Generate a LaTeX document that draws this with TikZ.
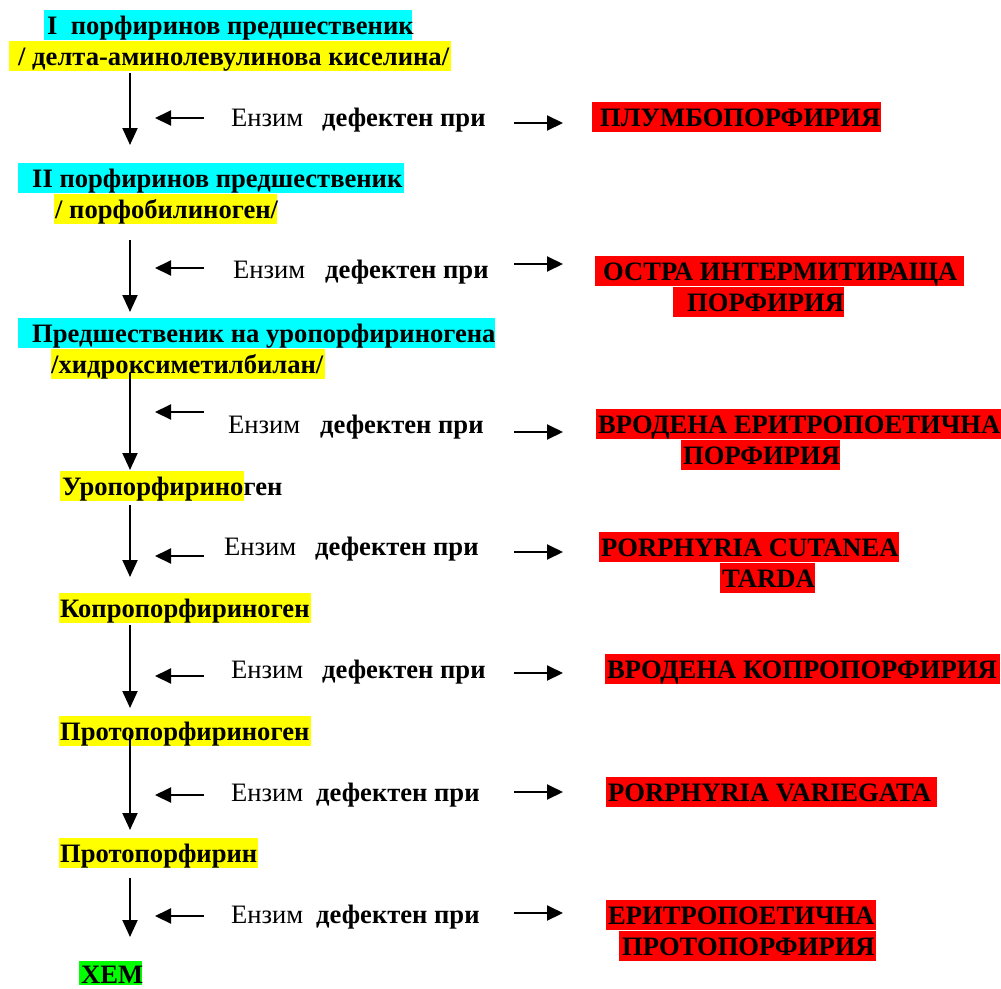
\documentclass[tikz,border=0pt]{standalone}
\usepackage{fontspec}
\setmainfont{Liberation Serif}
\usetikzlibrary{arrows.meta}
\definecolor{hlcyan}{RGB}{0,255,255}
\definecolor{hlyellow}{RGB}{255,255,0}
\definecolor{hlred}{RGB}{255,0,0}
\definecolor{hlgreen}{RGB}{0,255,0}
\newcommand\hbx[3]{\makebox[#1pt][l]{\hspace*{#2pt}#3}}
\newcommand\hlstrut{\rule{0pt}{24pt}\rule[-6pt]{0pt}{6pt}}
\tikzset{
  hl/.style={anchor=north west, inner sep=0pt, text height=24pt, text depth=6pt,
    font=\fontsize{26.6}{30}\selectfont\bfseries},
  cyanbox/.style={hl, fill=hlcyan},
  yelbox/.style={hl, fill=hlyellow},
  redbox/.style={hl, fill=hlred},
  grnbox/.style={hl, fill=hlgreen, text height=22pt, text depth=2pt},
  enz/.style={anchor=base west, inner sep=0pt, font=\fontsize{26.6}{30}\selectfont},
  dfk/.style={anchor=base west, inner sep=0pt, font=\fontsize{26.6}{30}\selectfont\bfseries},
  flow/.style={line width=2pt, -{Triangle[length=17pt,width=15pt]}},
  side/.style={line width=2pt, -{Triangle[length=16pt,width=15pt]}}
}
\begin{document}
\begin{tikzpicture}[x=1pt,y=-1pt]
\useasboundingbox (0,0) rectangle (1001,988);
% left column
\node[cyanbox] (n1a) at (44,10) {\hbx{368}{3}{I\ \ порфиринов предшественик}};
\node[yelbox] (n1b) at (9,41) {\hbx{442}{9}{/ делта-аминолевулинова киселина/}};
\node[cyanbox] (n2a) at (18,163) {\hbx{386}{14}{II порфиринов предшественик}};
\node[yelbox] (n2b) at (54,194) {\hbx{223}{1}{/ порфобилиноген/}};
\node[cyanbox] (n3a) at (18,318) {\hbx{477}{14}{Предшественик на уропорфириногена}};
\node[yelbox] (n3b) at (51,349) {\hbx{274}{0}{/хидроксиметилбилан/}};
\node[hl] (n4) at (60,471) {\setlength\fboxsep{0pt}\colorbox{hlyellow}{\hspace*{2pt}Уропорфирино\hlstrut}ген};
\node[yelbox] (n5) at (59,593) {\hbx{252}{1}{Копропорфириноген}};
\node[yelbox] (n6) at (59,716) {\hbx{252}{1}{Протопорфириноген}};
\node[yelbox] (n7) at (59,838) {\hbx{199}{1}{Протопорфирин}};
\node[grnbox] (n8) at (79,961) {\hbx{63}{2}{ХЕМ}};
% right column
\node[redbox] (r1) at (592,102) {\hbx{289}{8}{ПЛУМБОПОРФИРИЯ}};
\node[redbox] (r2a) at (595,256) {\hbx{369}{8}{ОСТРА ИНТЕРМИТИРАЩА}};
\node[redbox] (r2b) at (673,287) {\hbx{171}{14}{ПОРФИРИЯ}};
\node[redbox] (r3a) at (596,409) {\hbx{405}{2}{ВРОДЕНА ЕРИТРОПОЕТИЧНА}};
\node[redbox] (r3b) at (681,440) {\hbx{159}{2}{ПОРФИРИЯ}};
\node[redbox] (r4a) at (599,532) {\hbx{300}{2}{PORPHYRIA CUTANEA}};
\node[redbox] (r4b) at (720,563) {\hbx{95}{2}{TARDA}};
\node[redbox] (r5) at (605,654) {\hbx{395}{2}{ВРОДЕНА КОПРОПОРФИРИЯ}};
\node[redbox] (r6) at (606,777) {\hbx{331}{2}{PORPHYRIA VARIEGATA}};
\node[redbox] (r7a) at (606,900) {\hbx{270}{2}{ЕРИТРОПОЕТИЧНА}};
\node[redbox] (r7b) at (619,931) {\hbx{257}{3}{ПРОТОПОРФИРИЯ}};
% enzyme labels
\node[enz] (e1) at (231,126) {Ензим}; \node[dfk] (d1) at (322,126) {дефектен при};
\node[enz] (e2) at (233,278) {Ензим}; \node[dfk] (d2) at (325,278) {дефектен при};
\node[enz] (e3) at (228,433) {Ензим}; \node[dfk] (d3) at (320,433) {дефектен при};
\node[enz] (e4) at (224,555) {Ензим}; \node[dfk] (d4) at (315,555) {дефектен при};
\node[enz] (e5) at (231,678) {Ензим}; \node[dfk] (d5) at (322,678) {дефектен при};
\node[enz] (e6) at (231,801) {Ензим}; \node[dfk] (d6) at (316,801) {дефектен при};
\node[enz] (e7) at (231,923) {Ензим}; \node[dfk] (d7) at (316,923) {дефектен при};
% vertical flow arrows
\foreach \i/\a/\b in {1/73/145, 2/240/312, 3/373/470, 4/505/577, 5/625/708, 6/735/830, 7/878/937}{
  \coordinate (vs\i) at (130,\a);
  \coordinate (ve\i) at (130,\b);
  \draw[flow] (vs\i) -- (ve\i);
}
% left-pointing arrows
\foreach \i/\y in {1/118, 2/268, 3/412, 4/556, 5/676, 6/795, 7/916}{
  \coordinate (ls\i) at (204,\y);
  \coordinate (le\i) at (155,\y);
  \draw[side] (ls\i) -- (le\i);
}
% right-pointing arrows
\foreach \i/\y in {1/123, 2/264, 3/432, 4/552, 5/673, 6/792, 7/913}{
  \coordinate (rs\i) at (514,\y);
  \coordinate (re\i) at (563,\y);
  \draw[side] (rs\i) -- (re\i);
}
\end{tikzpicture}
\end{document}
